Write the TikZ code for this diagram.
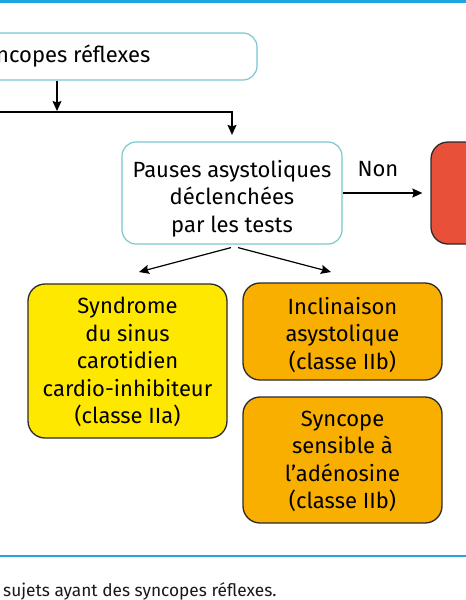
\documentclass[tikz,border=0pt]{standalone}
\usepackage{fontspec}
\setmainfont{Fira Sans}
\usetikzlibrary{arrows.meta,calc}
\definecolor{rulecol}{HTML}{1FA6DF}
\definecolor{tealb}{HTML}{7CC7CE}
\definecolor{yel}{HTML}{FFE800}
\definecolor{org}{HTML}{F9AF00}
\definecolor{redc}{HTML}{E8503A}
\definecolor{edge}{HTML}{2B2B2B}
\begin{document}
\begin{tikzpicture}[x=1pt,y=-1pt,
  txt/.style={font=\fontsize{22}{27.5}\selectfont, align=center, inner sep=0pt, text=black},
  tealbox/.style={rounded corners=14pt, line width=1.2pt, draw=tealb, fill=white, inner sep=0pt},
  decbox/.style={rounded corners=17pt, line width=1.3pt, draw=edge, inner sep=0pt},
  arr/.style={line width=1.2pt, -{Stealth[length=10pt,width=9pt,inset=1.5pt]}},
  rulel/.style={draw=rulecol, line width=2.6pt},
]
\useasboundingbox (0,0) rectangle (466,600);
\clip (0,0) rectangle (466,600);
\fill[white] (0,0) rectangle (466,600);

% rules
\coordinate (r1a) at (-5,1.3);
\coordinate (r1b) at (471,1.3);
\draw[rulel] (r1a) -- (r1b);
\coordinate (r2a) at (-5,556);
\coordinate (r2b) at (471,556);
\draw[rulel] (r2a) -- (r2b);

% boxes
\node[tealbox, txt, minimum width=390pt, minimum height=47pt] (top) at (62,56.5) {Syncopes réflexes};
\node[tealbox, minimum width=220pt, minimum height=102pt] (mid) at (232,193) {};
\node[decbox, fill=redc, minimum width=100pt, minimum height=102pt] (red) at (481,193) {};
\node[decbox, fill=yel, minimum width=199pt, minimum height=154pt] (syn) at (127.5,361) {};
\node[decbox, fill=org, minimum width=199pt, minimum height=97pt] (incl) at (342.5,331.5) {};
\node[decbox, fill=org, minimum width=199pt, minimum height=126pt] (aden) at (342.5,460) {};

% box texts
\node[txt] (midt) at ($(mid.center)+(0,5.5)$) {Pauses asystoliques\\déclenchées\\par les tests};
\node[txt] (synt) at ($(syn.center)+(0,1)$) {Syndrome\\du sinus\\carotidien\\cardio-inhibiteur\\(classe IIa)};
\node[txt] (inclt) at ($(incl.center)+(0,3.5)$) {Inclinaison\\asystolique\\(classe IIb)};
\node[txt] (adent) at ($(aden.center)+(0,1.5)$) {Syncope\\sensible à\\l’adénosine\\(classe IIb)};

\node[txt] (non) at (378,169) {Non};

% connectors
\coordinate (j1) at (57,111);
\draw[arr] (j1 |- top.south) -- (j1);
\coordinate (lft) at (-5,112);
\draw[arr, shorten >=6.5pt] (lft) -| (mid.north);
\draw[arr, shorten >=8pt] (mid.east) -- (red.west);
\coordinate (d1) at (139,272);
\coordinate (d2) at (331,272);
\draw[arr] ($(mid.south)+(-1,3)$) -- (d1);
\draw[arr] ($(mid.south)+(6,3)$) -- (d2);

% caption
\node[anchor=base west, inner sep=0pt, font=\fontsize{17.3}{20}\selectfont, text=black!90] (cap) at (3,596)
  {sujets ayant des syncopes réflexes.};
\end{tikzpicture}
\end{document}
